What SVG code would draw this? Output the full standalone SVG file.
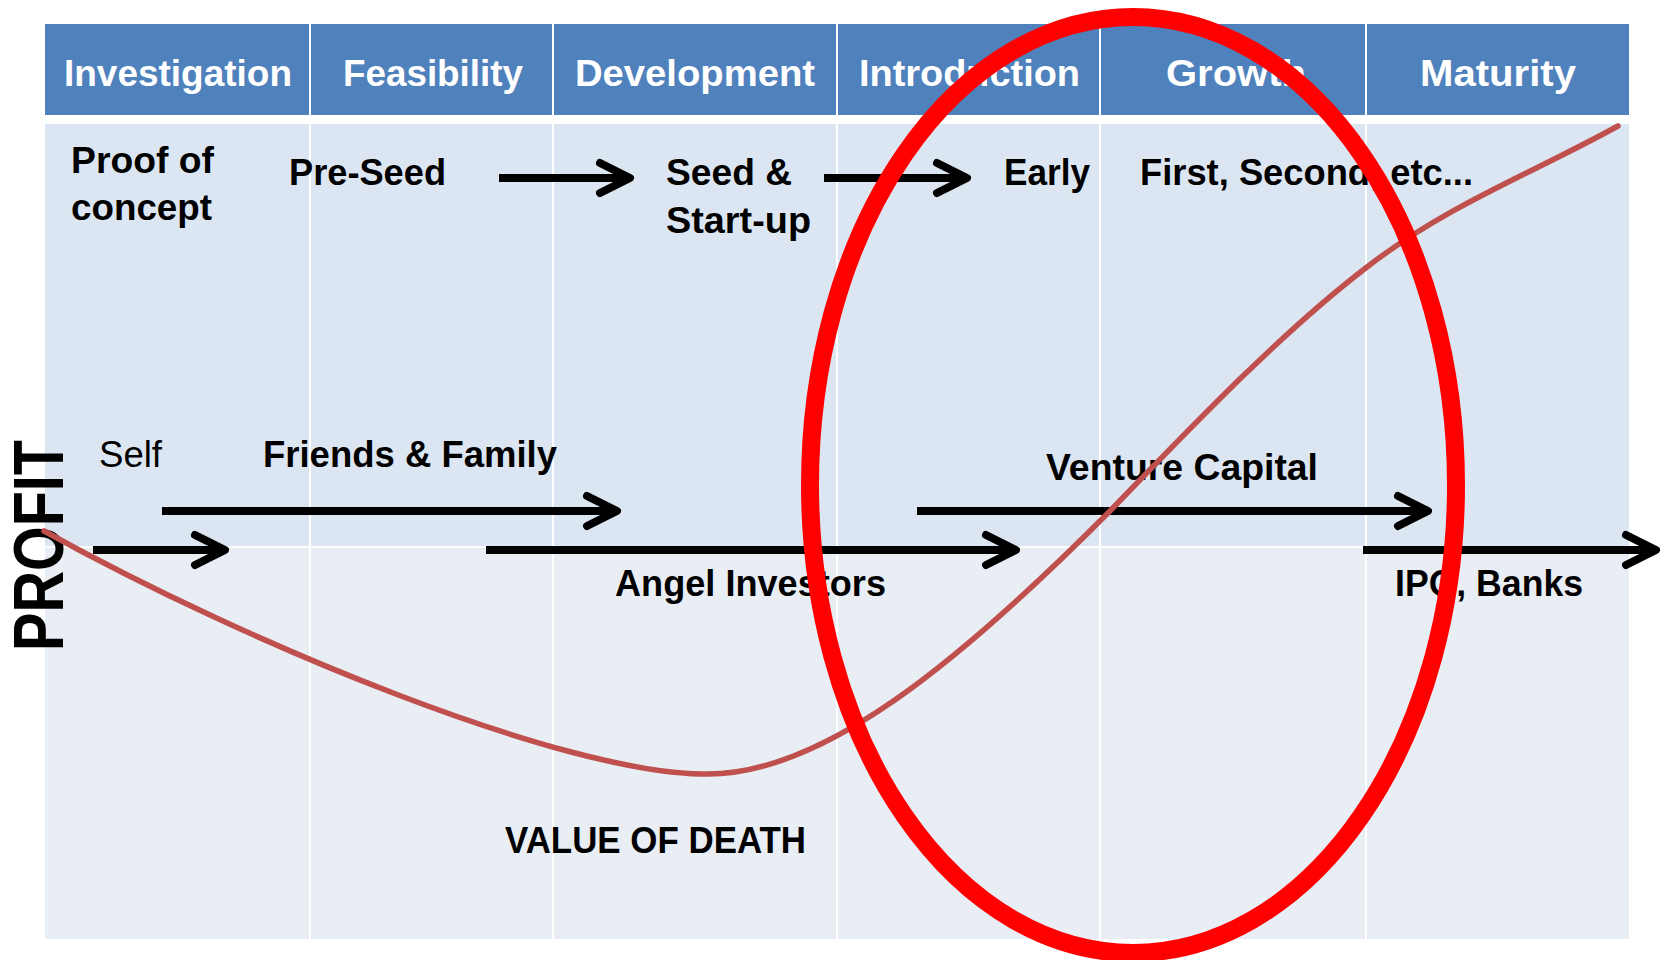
<svg xmlns="http://www.w3.org/2000/svg" width="1667" height="960" viewBox="0 0 1667 960">
<style>
.hdr{fill:#4F81BD}
.hdrt{font-family:"Liberation Sans",Arial,sans-serif;font-weight:bold;font-size:37px;fill:#ffffff}
.lbl{font-family:"Liberation Sans",Arial,sans-serif;font-weight:bold;font-size:36px;fill:#000000}
.reg{font-weight:normal}
.sep{stroke:#ffffff;stroke-width:2}
.arr{stroke:#000000;stroke-width:8;fill:none;marker-end:url(#chev)}
.curve{stroke:#C0504D;stroke-width:5.5;fill:none;stroke-linecap:round}
.ring{stroke:#FF0000;stroke-width:18;fill:none}
</style>
<defs>
<marker id="chev" markerUnits="userSpaceOnUse" viewBox="0 0 44 40" markerWidth="44" markerHeight="40" refX="34" refY="20" orient="auto" overflow="visible">
<polyline points="6,5 36,20 6,35" fill="none" stroke="#000000" stroke-width="8" stroke-linejoin="round" stroke-linecap="round"/>
</marker>
</defs>
<rect width="1667" height="960" fill="#ffffff"/>
<g id="background">
<rect x="45" y="124" width="1584" height="423" fill="#DCE6F2"/>
<rect x="45" y="547" width="1584" height="392" fill="#E9EDF4"/>
<line class="sep" x1="45" y1="547" x2="1629" y2="547"/>
<line class="sep" x1="310" y1="124" x2="310" y2="939"/>
<line class="sep" x1="553" y1="124" x2="553" y2="939"/>
<line class="sep" x1="837" y1="124" x2="837" y2="939"/>
<line class="sep" x1="1100" y1="124" x2="1100" y2="939"/>
<line class="sep" x1="1366" y1="124" x2="1366" y2="939"/>
</g>
<g id="header-investigation"><rect class="hdr" x="45" y="24" width="264" height="91"/><text class="hdrt" x="64" y="86" textLength="228" lengthAdjust="spacingAndGlyphs">Investigation</text></g>
<g id="header-feasibility"><rect class="hdr" x="311" y="24" width="241" height="91"/><text class="hdrt" x="343" y="86" textLength="180" lengthAdjust="spacingAndGlyphs">Feasibility</text></g>
<g id="header-development"><rect class="hdr" x="554" y="24" width="282" height="91"/><text class="hdrt" x="575" y="86" textLength="240" lengthAdjust="spacingAndGlyphs">Development</text></g>
<g id="header-introduction"><rect class="hdr" x="838" y="24" width="261" height="91"/><text class="hdrt" x="859" y="86" textLength="221" lengthAdjust="spacingAndGlyphs">Introduction</text></g>
<g id="header-growth"><rect class="hdr" x="1101" y="24" width="264" height="91"/><text class="hdrt" x="1166" y="86" textLength="140" lengthAdjust="spacingAndGlyphs">Growth</text></g>
<g id="header-maturity"><rect class="hdr" x="1367" y="24" width="262" height="91"/><text class="hdrt" x="1420" y="86" textLength="156" lengthAdjust="spacingAndGlyphs">Maturity</text></g>
<g id="stage-proof"><text class="lbl" x="71" y="173" textLength="143" lengthAdjust="spacingAndGlyphs">Proof of</text><text class="lbl" x="71" y="220" textLength="141" lengthAdjust="spacingAndGlyphs">concept</text></g>
<g id="stage-preseed"><text class="lbl" x="289" y="185" textLength="157" lengthAdjust="spacingAndGlyphs">Pre-Seed</text></g>
<g id="stage-seed"><text class="lbl" x="666" y="185" textLength="126" lengthAdjust="spacingAndGlyphs">Seed &amp;</text><text class="lbl" x="666" y="233" textLength="145" lengthAdjust="spacingAndGlyphs">Start-up</text></g>
<g id="stage-early"><text class="lbl" x="1004" y="185" textLength="86" lengthAdjust="spacingAndGlyphs">Early</text></g>
<g id="stage-rounds"><text class="lbl" x="1140" y="185" textLength="333" lengthAdjust="spacingAndGlyphs">First, Second, etc...</text></g>
<g id="fund-self"><text class="lbl reg" x="99" y="467" textLength="63" lengthAdjust="spacingAndGlyphs">Self</text></g>
<g id="fund-friends"><text class="lbl" x="263" y="467" textLength="294" lengthAdjust="spacingAndGlyphs">Friends &amp; Family</text></g>
<g id="fund-vc"><text class="lbl" x="1046" y="480" textLength="272" lengthAdjust="spacingAndGlyphs">Venture Capital</text></g>
<g id="fund-angel"><text class="lbl" x="615" y="596" textLength="271" lengthAdjust="spacingAndGlyphs">Angel Investors</text></g>
<g id="fund-ipo"><text class="lbl" x="1395" y="596" textLength="188" lengthAdjust="spacingAndGlyphs">IPO, Banks</text></g>
<g id="valley"><text class="lbl" x="505" y="853" textLength="301" lengthAdjust="spacingAndGlyphs">VALUE OF DEATH</text></g>
<g id="axis-profit"><text class="lbl" x="0" y="0" transform="translate(63,651) rotate(-90)" style="font-size:70px" textLength="211" lengthAdjust="spacingAndGlyphs">PROFIT</text></g>
<g id="connectors">
<line class="arr" x1="499" y1="178" x2="628" y2="178"/>
<line class="arr" x1="824" y1="178" x2="965" y2="178"/>
<line class="arr" x1="93" y1="550" x2="223" y2="550"/>
<line class="arr" x1="162" y1="511" x2="615" y2="511"/>
<line class="arr" x1="486" y1="550" x2="1014" y2="550"/>
<line class="arr" x1="917" y1="511" x2="1426" y2="511"/>
<line class="arr" x1="1363" y1="550" x2="1654" y2="550"/>
</g>
<g id="profit-curve">
<path class="curve" d="M44,531 C250,645 560,772 702,774 C820,778 960,662 1111,510 C1196,422 1282,332 1367,267 C1447,205 1533,173 1618,126"/>
</g>
<g id="highlight">
<ellipse class="ring" cx="1133" cy="485" rx="323" ry="468"/>
</g>
</svg>
